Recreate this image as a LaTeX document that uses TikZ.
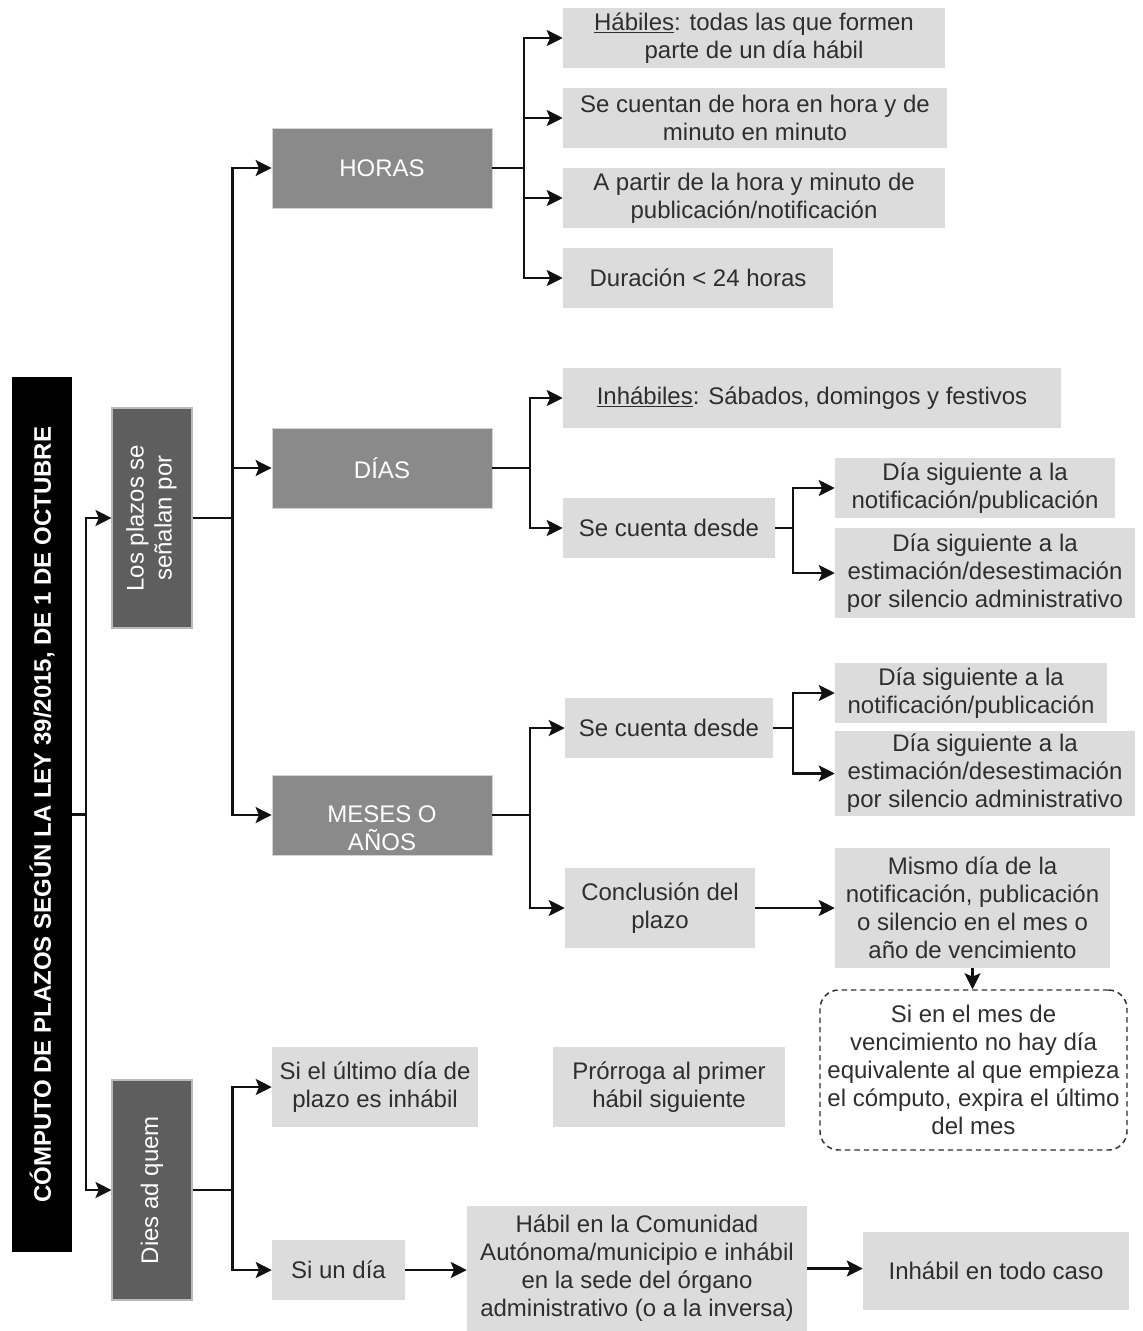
\documentclass[tikz,border=0pt]{standalone}
\usepackage{fontspec}
\setmainfont{Liberation Sans}
\usepackage{graphicx}
\usetikzlibrary{arrows.meta}
\definecolor{dk}{HTML}{5E5E5E}
\definecolor{md}{HTML}{8A8A8A}
\definecolor{lt}{HTML}{DCDCDC}
\definecolor{tx}{HTML}{2E2E2E}
\definecolor{ln}{HTML}{111111}
\newcommand\bx[7]{\node[#6, minimum width={(#4-#2)*0.75pt}, minimum height={(#5-#3)*0.75pt}] (#1) at ({(#2+#4)/2},{(#3+#5)/2}) {#7};}
\begin{document}
\begin{tikzpicture}[x=0.75pt,y=-0.75pt,
  base/.style={inner sep=0pt, align=center, font=\fontsize{18}{21}\selectfont},
  lbox/.style={base, fill=lt, text=tx},
  dbox/.style={base, fill=dk, draw=gray!55!white, line width=0.8pt, text=white},
  mbox/.style={base, fill=md, draw=gray!35!white, line width=0.6pt, text=white},
  tbox/.style={base, fill=black, text=white, font=\fontsize{18}{21}\selectfont\bfseries},
  nbox/.style={base, draw=tx, dash pattern=on 4pt off 3pt, rounded corners=14pt, line width=1.1pt, text=tx},
  arr/.style={-{Stealth[length=12pt,width=12pt,inset=2.5pt]}, line width=1.6pt, draw=ln},
]
\useasboundingbox (0,0) rectangle (1142,1331);

\bx{title}{12}{377}{72}{1252}{tbox}{\rotatebox{90}{CÓMPUTO DE PLAZOS SEGÚN LA LEY 39/2015, DE 1 DE OCTUBRE}}
\bx{plazos}{112}{408}{192}{628}{dbox}{\rotatebox{90}{\begin{tabular}{@{}c@{}}Los plazos se\\señalan por\end{tabular}}}
\bx{dies}{112}{1080}{192}{1300}{dbox}{\rotatebox{90}{Dies ad quem}}

\bx{horas}{272}{128}{492}{208}{mbox}{HORAS}
\bx{dias}{272}{428}{492}{508}{mbox}{DÍAS}
\bx{meses}{272}{775}{492}{855}{mbox}{\rule{0pt}{32pt}MESES O\\AÑOS}

\bx{hab}{563}{8}{945}{68}{lbox}{\underline{Hábiles}: todas las que formen\\parte de un día hábil}
\bx{hora}{563}{88}{947}{148}{lbox}{Se cuentan de hora en hora y de\\minuto en minuto}
\bx{apar}{563}{168}{945}{228}{lbox}{A partir de la hora y minuto de\\publicación/notificación}
\bx{dur}{563}{248}{833}{308}{lbox}{Duración < 24 horas}

\bx{inh}{563}{368}{1061}{428}{lbox}{\underline{Inhábiles}: Sábados, domingos y festivos}
\bx{sdd}{563}{498}{775}{558}{lbox}{Se cuenta desde}
\bx{dda}{835}{458}{1115}{518}{lbox}{Día siguiente a la\\notificación/publicación}
\bx{ddb}{835}{528}{1135}{618}{lbox}{Día siguiente a la\\estimación/desestimación\\por silencio administrativo}

\bx{sdm}{565}{698}{773}{758}{lbox}{Se cuenta desde}
\bx{dma}{835}{663}{1107}{723}{lbox}{Día siguiente a la\\notificación/publicación}
\bx{dmb}{835}{731}{1135}{816}{lbox}{Día siguiente a la\\estimación/desestimación\\por silencio administrativo}
\bx{conc}{565}{868}{755}{948}{lbox}{Conclusión del\\plazo}
\bx{mismo}{835}{848}{1110}{968}{lbox}{Mismo día de la\\notificación, publicación\\o silencio en el mes o\\año de vencimiento}
\bx{nota}{820}{990}{1127}{1150}{nbox}{Si en el mes de\\vencimiento no hay día\\equivalente al que empieza\\el cómputo, expira el último\\del mes}

\bx{sult}{272}{1047}{478}{1127}{lbox}{Si el último día de\\plazo es inhábil}
\bx{prorr}{553}{1047}{785}{1127}{lbox}{Prórroga al primer\\hábil siguiente}
\bx{siun}{272}{1240}{405}{1300}{lbox}{Si un día}
\bx{habc}{467}{1206}{807}{1331}{lbox}{Hábil en la Comunidad\\Autónoma/municipio e inhábil\\en la sede del órgano\\administrativo (o a la inversa)}
\bx{inht}{863}{1232}{1129}{1310}{lbox}{Inhábil en todo caso}

\draw[arr] (title.east) -- ++(14,0) |- (plazos.west);
\draw[arr] (title.east) -- ++(14,0) |- (dies.west);

\draw[arr] (plazos.east) -- ++(40,0) |- (horas.west);
\draw[arr] (plazos.east) -- ++(40,0) |- (dias.west);
\draw[arr] (plazos.east) -- ++(40,0) |- (meses.west);

\draw[arr] (horas.east) -- ++(32,0) |- (hab.west);
\draw[arr] (horas.east) -- ++(32,0) |- (hora.west);
\draw[arr] (horas.east) -- ++(32,0) |- (apar.west);
\draw[arr] (horas.east) -- ++(32,0) |- (dur.west);

\draw[arr] (dias.east) -- ++(38,0) |- (inh.west);
\draw[arr] (dias.east) -- ++(38,0) |- (sdd.west);
\draw[arr] (sdd.east) -- ++(18,0) |- (dda.west);
\draw[arr] (sdd.east) -- ++(18,0) |- (ddb.west);

\draw[arr] (meses.east) -- ++(38,0) |- (sdm.west);
\draw[arr] (meses.east) -- ++(38,0) |- (conc.west);
\draw[arr] (sdm.east) -- ++(20,0) |- (dma.west);
\draw[arr] (sdm.east) -- ++(20,0) |- (dmb.west);
\draw[arr] (conc.east) -- (conc.east -| mismo.west);
\draw[arr] (mismo.south) -- (mismo.south |- nota.north);

\draw[arr] (dies.east) -- ++(40,0) |- (sult.west);
\draw[arr] (dies.east) -- ++(40,0) |- (siun.west);
\draw[arr] (siun.east) -- (siun.east -| habc.west);
\draw[arr] (habc.east) -- (habc.east -| inht.west);
\end{tikzpicture}
\end{document}
